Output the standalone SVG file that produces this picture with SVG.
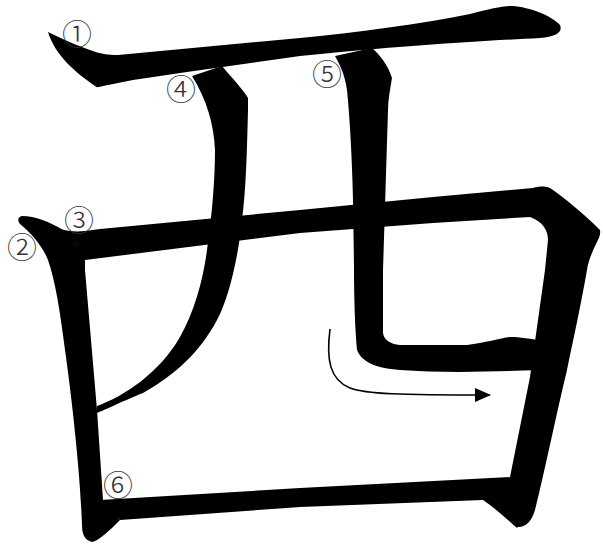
<svg xmlns="http://www.w3.org/2000/svg" width="603" height="545" viewBox="0 0 603 545">
<style>
.s{fill:#000;stroke:none}
.n{font-family:"Noto Sans CJK JP","DejaVu Sans",sans-serif;font-size:30px;font-weight:300;fill:#333;text-anchor:middle;dominant-baseline:central}
.c{fill:none;stroke:#000;stroke-width:1.6}
</style>
<defs>
<marker id="ah" markerWidth="16" markerHeight="14" refX="15" refY="7" orient="auto" markerUnits="userSpaceOnUse">
<path d="M0,0 L16,7 L0,14 Z" fill="#000"/>
</marker>
</defs>
<rect width="603" height="545" fill="#fff"/>
<g id="stroke1"><path class="s" d="M48,32 C60,38 78,46 90,50 C100,54 108,55 118,55 L300,38 C360,32 420,24 470,14 C490,9 502,6 512,6 C530,7 552,16 560,25 C563,32 556,37 540,38 C480,41 400,46 300,56 L187,72 L133,80 L103,86 C99,87 97,88 95,86 C75,72 55,55 48,32 Z"/></g>
<g id="stroke4"><path class="s" d="M192,76 L222,66 C232,78 242,88 248,98 L248,110 C247,150 246,190 242,220 C238,260 228,300 217,320 C200,352 175,375 143,393 C125,400 105,410 97,413 L97,406 C125,396 160,372 180,337 C195,310 203,280 207,250 C212,215 215,180 215,150 C214,125 207,100 192,76 Z"/></g>
<g id="stroke5"><path class="s" d="M335,56 L372,48 C380,55 388,65 392,78 C390,90 388,100 388,110 L383,270 L383,333 C384,340 390,344 400,345 L467,345 C485,343 500,338 510,337 C520,337 530,339 545,341 L540,370 C490,372 440,373 400,370 C375,368 362,362 357,350 C355,330 354,300 354,267 L353,200 C352,160 350,120 347,90 C345,75 340,65 335,56 Z"/></g>
<g id="stroke2"><path class="s" d="M22,216 C35,216 50,222 63,230 L85,257 L85,270 L97,410 L103,500 L120,520 C110,530 100,540 92,542 C85,540 82,535 82,525 C80,470 72,400 65,350 C60,310 55,280 48,260 C42,245 30,232 20,224 C17,220 18,217 22,216 Z"/></g>
<g id="stroke3"><path class="s" d="M60,229 C68,231 75,232 85,231 L100,229 L300,210 L433,197 L533,188 C540,186 545,186 550,188 C565,198 585,215 600,230 C601,235 598,240 597,242 C592,252 588,262 587,270 C580,310 572,345 567,370 C555,420 545,470 535,510 C532,520 527,527 518,527 L510,520 L510,477 L530,377 L545,270 L548,240 C548,230 543,222 530,217 L433,223 L300,233 L85,260 L75,245 Z"/></g>
<g id="stroke6"><path class="s" d="M100,500 L300,488 L512,477 L522,520 L517,528 C508,520 495,508 483,500 L300,507 L120,520 Z"/></g>
<g id="connectors"><path class="c" d="M330,329 C326,360 330,380 350,388 C365,394 400,395 490,395" marker-end="url(#ah)"/></g>
<g id="labels">
<text class="n" x="77" y="32">①</text>
<text class="n" x="22" y="245">②</text>
<text class="n" x="79" y="218">③</text>
<text class="n" x="181" y="87">④</text>
<text class="n" x="327" y="72">⑤</text>
<text class="n" x="118" y="483">⑥</text>
</g>
</svg>
